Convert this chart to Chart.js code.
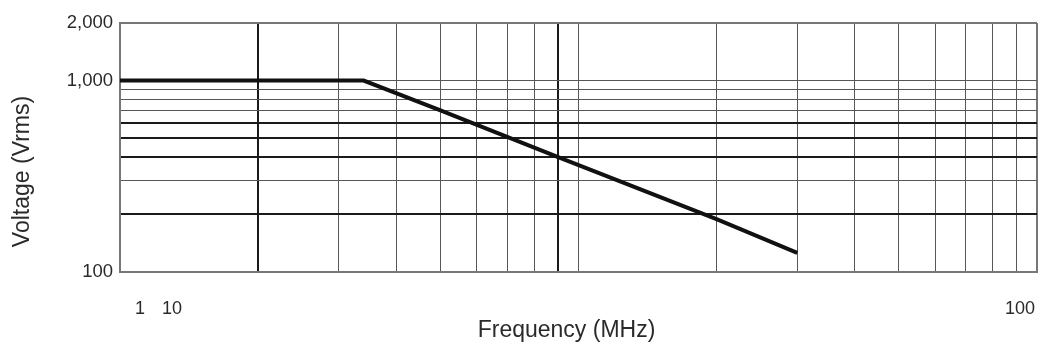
<!DOCTYPE html>
<html>
<head>
<meta charset="utf-8">
<script src="https://cdn.jsdelivr.net/npm/chart.js@4/dist/chart.umd.min.js"></script>
<style>
  html, body { margin: 0; padding: 0; background: #ffffff; }
  #c { display: block; }
</style>
</head>
<body>
<canvas id="c" width="1043" height="351"></canvas>
<script>
// ---- data ----
const freqMHz   = [1, 3.4, 5, 9, 20, 30];
const voltsRms  = [1000, 1000, 700, 400, 189, 126];

const yTickValues = [100, 200, 300, 400, 500, 600, 700, 800, 900, 1000, 2000];
const yTickLabels = ['100', '', '', '', '', '', '', '', '', '1,000', '2,000'];
const yThickLines = [200, 400, 500, 600];

const xGridValues = [1, 2, 3, 4, 5, 6, 7, 8, 9, 10, 20, 30, 40, 50, 60, 70, 80, 90, 100];
const xThickLines = [2, 9];
const xTickLabels = ['1', '10', '100'];
// where the tick labels sit in the reference (in MHz along the axis)
const xTickLabelAnchors = [1.106, 1.298, 91.8];

const FONT = "'Liberation Sans', Arial, Helvetica, sans-serif";
const THIN = '#575757', THICK = '#1a1a1a', EDGE = '#777777';

const axisTitles = {
  id: 'axisTitles',
  afterDraw(chart) {
    const { ctx, chartArea: a } = chart;
    ctx.save();
    ctx.fillStyle = '#2a2a2a';
    ctx.font = '23px ' + FONT;
    ctx.textAlign = 'center';
    ctx.textBaseline = 'middle';
    ctx.fillText('Frequency (MHz)', (a.left + a.right) / 2 - 12, a.bottom + 59);
    ctx.translate(23, (a.top + a.bottom) / 2 + 24);
    ctx.rotate(-Math.PI / 2);
    ctx.fillText('Voltage (Vrms)', 0, 0);
    ctx.restore();
  }
};

new Chart(document.getElementById('c'), {
  type: 'line',
  data: {
    datasets: [{
      data: freqMHz.map((f, i) => ({ x: f, y: voltsRms[i] })),
      borderColor: '#111111',
      borderWidth: 4,
      borderCapStyle: 'butt',
      borderJoinStyle: 'miter',
      pointRadius: 0,
      tension: 0,
      fill: false
    }]
  },
  options: {
    responsive: false,
    animation: false,
    devicePixelRatio: 1,
    layout: { padding: { top: 23, right: 6, bottom: 0, left: 0 } },
    plugins: { legend: { display: false }, tooltip: { enabled: false } },
    scales: {
      x: {
        type: 'logarithmic',
        position: 'bottom',
        min: 1, max: 100,
        afterBuildTicks: s => { s.ticks = xGridValues.map(v => ({ value: v })); },
        afterFit: s => { s.height = 0; s.paddingLeft = 0; s.paddingRight = 0; },
        ticks: { display: false },
        border: { display: true, color: EDGE, width: 2 },
        grid: {
          drawTicks: false,
          color: c => (c.tick && c.tick.value === 100) ? EDGE : (c.tick && xThickLines.includes(c.tick.value) ? THICK : THIN),
          lineWidth: c => (c.tick && (xThickLines.includes(c.tick.value) || c.tick.value === 100)) ? 2 : 1
        }
      },
      x2: {
        type: 'logarithmic',
        position: 'bottom',
        min: 1, max: 100,
        afterBuildTicks: s => { s.ticks = xTickLabelAnchors.map(v => ({ value: v })); },
        afterFit: s => { s.height = 79; s.paddingLeft = 0; s.paddingRight = 0; },
        grid: { display: false, drawTicks: false },
        border: { display: false },
        ticks: {
          autoSkip: false, maxRotation: 0, minRotation: 0,
          padding: 26,
          color: '#2a2a2a',
          font: { family: FONT, size: 18 },
          callback: (v, i) => xTickLabels[i]
        }
      },
      y: {
        type: 'logarithmic',
        min: 100, max: 2000,
        afterBuildTicks: s => { s.ticks = yTickValues.map(v => ({ value: v })); },
        afterFit: s => { s.width = 120; },
        border: { display: true, color: EDGE, width: 2 },
        grid: {
          drawTicks: false,
          color: c => (c.tick && (c.tick.value === 2000 || c.tick.value === 100)) ? EDGE : (c.tick && yThickLines.includes(c.tick.value) ? THICK : THIN),
          lineWidth: c => (c.tick && (yThickLines.includes(c.tick.value) || c.tick.value === 2000 || c.tick.value === 100)) ? 2 : 1
        },
        ticks: {
          autoSkip: false,
          padding: 7,
          color: '#2a2a2a',
          font: { family: FONT, size: 18.5 },
          callback: (v, i) => yTickLabels[i]
        }
      }
    }
  },
  plugins: [axisTitles]
});
</script>
</body>
</html>
